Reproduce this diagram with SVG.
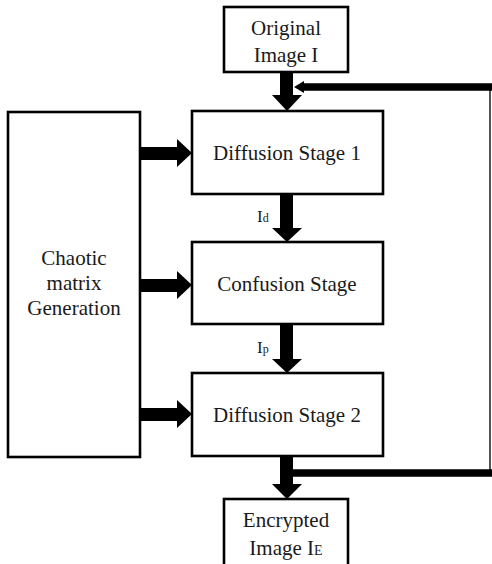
<svg xmlns="http://www.w3.org/2000/svg" width="492" height="564" viewBox="0 0 492 564">
  <style>
    text { font-family: 'Liberation Serif', 'DejaVu Serif', serif; }
    .box { fill: #ffffff; stroke: #000000; stroke-width: 2.6; }
    .lbl { font-size: 21px; fill: #1a1a1a; text-anchor: middle; }
    .sig { font-size: 17px; fill: #1a1a1a; }
    .arrow { fill: #000000; }
    .loop { fill: none; stroke: #000000; stroke-width: 7.5; }
    .rail { fill: none; stroke: #555555; stroke-width: 2; }
  </style>
  <rect width="492" height="564" fill="#ffffff"/>

  <!-- connectors -->
  <g id="connectors">
    <!-- feedback loop from the output back to the input -->
    <line class="rail" x1="490" y1="84" x2="490" y2="476"/>
    <line class="loop" x1="293" y1="473" x2="492" y2="473"/>
    <line class="loop" x1="302" y1="87" x2="492" y2="87"/>
    <polygon class="arrow" points="294,87 304,81 304,93"/>

    <!-- vertical block arrows -->
    <polygon class="arrow" points="280,72 293,72 293,95 302,95 287,111 272,95 280,95"/>
    <polygon class="arrow" points="280,194 293,194 293,228 302,228 287,242 272,228 280,228"/>
    <polygon class="arrow" points="280,324 293,324 293,359 302,359 287,373 272,359 280,359"/>
    <polygon class="arrow" points="280,456 293,456 293,484 302,484 287,499 272,484 280,484"/>

    <!-- horizontal block arrows from the matrix generator -->
    <polygon class="arrow" points="140,147 177,147 177,139 192,153 177,167 177,160 140,160"/>
    <polygon class="arrow" points="140,279 177,279 177,271 192,285 177,299 177,292 140,292"/>
    <polygon class="arrow" points="140,408 177,408 177,400 192,414 177,428 177,421 140,421"/>

    <!-- intermediate image labels -->
    <text class="sig" x="257" y="222">I<tspan font-size="12">d</tspan></text>
    <text class="sig" x="257" y="353">I<tspan font-size="12">p</tspan></text>
  </g>

  <g id="original">
    <rect class="box" x="224" y="7" width="124" height="65"/>
    <text class="lbl" x="286" y="35">Original</text>
    <text class="lbl" x="286" y="62">Image I</text>
  </g>

  <g id="chaotic">
    <rect class="box" x="8" y="112" width="132" height="345"/>
    <text class="lbl" x="74" y="265">Chaotic</text>
    <text class="lbl" x="74" y="290">matrix</text>
    <text class="lbl" x="74" y="315">Generation</text>
  </g>

  <g id="diffusion1">
    <rect class="box" x="192" y="111" width="191" height="83"/>
    <text class="lbl" x="287" y="160">Diffusion Stage 1</text>
  </g>

  <g id="confusion">
    <rect class="box" x="192" y="242" width="191" height="82"/>
    <text class="lbl" x="287" y="291">Confusion Stage</text>
  </g>

  <g id="diffusion2">
    <rect class="box" x="192" y="373" width="191" height="83"/>
    <text class="lbl" x="287" y="422">Diffusion Stage 2</text>
  </g>

  <g id="encrypted">
    <rect class="box" x="224" y="499" width="124" height="68"/>
    <text class="lbl" x="286" y="527">Encrypted</text>
    <text class="lbl" x="286" y="555">Image I<tspan font-size="14">E</tspan></text>
  </g>
</svg>
